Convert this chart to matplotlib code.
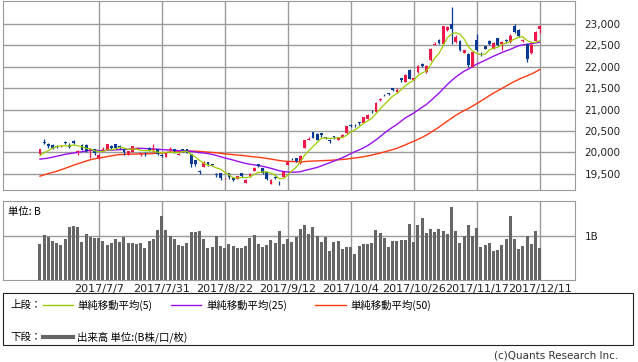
import numpy as np
import matplotlib
matplotlib.use("Agg")
import matplotlib.pyplot as plt
from matplotlib.patches import Rectangle
from matplotlib.lines import Line2D

# closes before the visible window (2017/4/6 - 2017/6/16), only used for the moving averages
prior_closes = [18597, 18665, 18798, 18748, 18553, 18427, 18336, 18355, 18419, 18432,
                18430, 18621, 18876, 19079, 19289, 19252, 19197, 19311, 19446, 19896,
                19843, 19900, 19962, 19884, 19870, 19920, 19815, 19554, 19591, 19678,
                19613, 19743, 19813, 19687, 19683, 19678, 19651, 19860, 20177, 20171,
                19980, 19985, 19909, 20013, 19909, 19899, 19884, 19832, 19943]

# daily candles 2017/6/19 - 2017/12/11
opens = [19960, 20240, 20200, 20180, 20150, 20140, 20230, 20140, 20260, 20000,
         20180, 20170, 20060, 20070, 19860, 20060, 20060, 20160, 20190, 20160,
         20070, 19960, 20020, 20090, 19960, 19970, 20110, 20060, 20070, 19940,
         19900, 20060, 20070, 19940, 20070, 20070, 19960, 19820, 19560, 19665,
         19765, 19725, 19500, 19510, 19375, 19520, 19395, 19380, 19510, 19290,
         19440, 19565, 19730, 19630, 19535, 19270, 19430, 19290, 19430, 19705,
         19870, 19875, 19750, 20110, 20290, 20480, 20440, 20455, 20350, 20300,
         20370, 20290, 20360, 20450, 20650, 20650, 20700, 20690, 20790, 20970,
         20945, 21220, 21340, 21380, 21490, 21400, 21735, 21640, 21930, 21690,
         21875, 22070, 21880, 22145, 22510, 22630, 22535, 22850, 23000, 22570,
         22605, 22325, 22300, 21990, 22610, 22290, 22470, 22600, 22420, 22660,
         22520, 22620, 22575, 22940, 22860, 22590, 22535, 22320, 22595, 22885]
highs = [20090, 20320, 20230, 20200, 20170, 20180, 20260, 20230, 20280, 20050,
         20200, 20190, 20100, 20090, 19960, 20120, 20200, 20170, 20200, 20170,
         20080, 20040, 20160, 20130, 19990, 20000, 20120, 20190, 20080, 19960,
         20000, 20120, 20080, 19990, 20090, 20080, 19970, 19830, 19600, 19790,
         19770, 19740, 19520, 19520, 19410, 19530, 19400, 19460, 19520, 19370,
         19520, 19670, 19735, 19640, 19540, 19370, 19440, 19330, 19550, 19790,
         19880, 19880, 19940, 20300, 20365, 20480, 20445, 20460, 20360, 20310,
         20380, 20365, 20420, 20620, 20660, 20660, 20710, 20830, 20905, 20990,
         21180, 21270, 21350, 21390, 21495, 21490, 21740, 21820, 21935, 21745,
         22030, 22080, 22030, 22430, 22565, 22640, 22955, 22940, 23382, 22730,
         22610, 22395, 22310, 22360, 22760, 22340, 22475, 22610, 22570, 22670,
         22600, 22640, 22770, 22995, 22870, 22650, 22540, 22550, 22830, 22960]
lows = [19940, 20200, 20100, 20090, 20110, 20130, 20190, 20110, 20190, 19950,
        20050, 20010, 19880, 19950, 19850, 20040, 20050, 20070, 20090, 20090,
        19930, 19950, 20010, 20080, 19920, 19920, 20040, 20020, 19930, 19900,
        19890, 20000, 19990, 19930, 20010, 19980, 19660, 19680, 19500, 19650,
        19690, 19680, 19430, 19360, 19370, 19390, 19340, 19370, 19420, 19280,
        19430, 19560, 19660, 19500, 19355, 19260, 19370, 19240, 19420, 19700,
        19830, 19770, 19740, 20100, 20290, 20330, 20290, 20360, 20320, 20230,
        20320, 20280, 20350, 20440, 20600, 20600, 20650, 20680, 20780, 20930,
        20940, 21210, 21310, 21340, 21420, 21390, 21640, 21630, 21700, 21680,
        21860, 22000, 21860, 22140, 22500, 22530, 22530, 22830, 22530, 22560,
        22370, 22310, 21990, 21980, 22370, 22250, 22400, 22510, 22400, 22480,
        22390, 22560, 22560, 22780, 22700, 22580, 22107, 22300, 22590, 22780]
closes = [20068, 20230, 20139, 20111, 20133, 20153, 20225, 20130, 20220, 20033,
          20056, 20032, 20082, 19994, 19929, 20081, 20195, 20098, 20100, 20119,
          20001, 20021, 20145, 20100, 19976, 19955, 20050, 20080, 19960, 19925,
          19986, 20080, 20029, 19952, 20056, 19996, 19739, 19730, 19537, 19753,
          19729, 19703, 19470, 19393, 19384, 19435, 19354, 19453, 19450, 19363,
          19507, 19646, 19691, 19508, 19386, 19358, 19397, 19275, 19546, 19777,
          19866, 19807, 19910, 20299, 20310, 20347, 20296, 20398, 20330, 20267,
          20363, 20356, 20401, 20614, 20627, 20629, 20691, 20824, 20881, 20955,
          21155, 21256, 21336, 21363, 21449, 21458, 21697, 21805, 21708, 21740,
          22008, 22012, 22012, 22420, 22539, 22548, 22938, 22914, 22869, 22681,
          22381, 22380, 22028, 22351, 22397, 22262, 22416, 22523, 22551, 22496,
          22580, 22597, 22725, 22819, 22707, 22622, 22177, 22498, 22811, 22939]
# volume, unit B
volumes = [0.83, 1.02, 0.98, 0.89, 0.84, 0.80, 0.93, 1.20, 1.23, 1.20,
           0.86, 1.05, 0.98, 0.95, 0.95, 0.89, 0.80, 0.84, 0.93, 0.86,
           0.98, 0.84, 0.84, 0.82, 0.84, 0.73, 0.89, 0.93, 1.14, 1.45,
           1.14, 1.00, 0.93, 0.80, 0.77, 0.84, 1.09, 1.09, 1.11, 0.93,
           0.73, 0.75, 1.00, 0.77, 0.73, 0.82, 0.77, 0.73, 0.73, 0.77,
           0.95, 1.02, 0.82, 0.75, 0.80, 0.91, 0.84, 1.11, 0.82, 0.93,
           0.86, 0.98, 1.16, 1.25, 1.05, 1.20, 1.00, 0.86, 0.98, 0.66,
           0.86, 0.89, 0.70, 0.75, 0.75, 0.59, 0.77, 0.82, 0.82, 0.84,
           1.14, 1.07, 0.95, 0.75, 0.89, 0.89, 0.91, 0.91, 1.27, 0.86,
           1.25, 1.41, 1.07, 1.16, 1.09, 1.16, 1.11, 1.05, 1.66, 1.11,
           0.84, 1.00, 1.25, 1.00, 1.18, 0.75, 0.80, 0.84, 0.66, 0.68,
           0.80, 0.93, 1.45, 0.93, 0.70, 0.77, 1.00, 0.82, 1.11, 0.73]

tick_index = [14, 29, 44, 59, 74, 89, 104, 119]
tick_labels = ['2017/7/7', '2017/7/31', '2017/8/22', '2017/9/12',
               '2017/10/4', '2017/10/26', '2017/11/17', '2017/12/11']
price_ticks = [19500, 20000, 20500, 21000, 21500, 22000, 22500, 23000]

RED = '#f0174b'
BLUE = '#0b3a94'
C5, C25, C50 = '#9ccc00', '#9a10ee', '#ff3a10'
GRID = '#9a9a9a'
JP = ['Noto Sans CJK JP', 'DejaVu Sans']

W, H = 638, 362
fig = plt.figure(figsize=(W / 100, H / 100), dpi=100)

def box(l, t, r, b):
    return [l / W, 1 - b / H, (r - l) / W, (b - t) / H]

o = np.array(opens, float); hi = np.array(highs, float)
lo = np.array(lows, float); c = np.array(closes, float)
x = np.arange(len(c))
allc = np.array(prior_closes + closes, float)

def sma(n):
    return np.convolve(allc, np.ones(n) / n, mode='valid')[-len(c):]

ax = fig.add_axes(box(3, 0.5, 575, 190))
ax.set_xlim(-8.8, 127.4)
ax.set_ylim(19123, 23542)
ax.set_yticks(price_ticks)
ax.set_yticklabels([f'{v:,}' for v in price_ticks], fontsize=7.5)
ax.set_xticks(tick_index)
ax.set_xticklabels([])
ax.yaxis.tick_right()
ax.tick_params(length=0, pad=7, labelcolor='#222222')
ax.grid(True, color=GRID, lw=1)
ax.set_axisbelow(True)
for s in ax.spines.values():
    s.set_color(GRID)

ax.plot(x, sma(50), color=C50, lw=1.0, zorder=2)
ax.plot(x, sma(25), color=C25, lw=1.0, zorder=2)
colors = np.where(c > o, RED, BLUE)
ax.vlines(x, lo, hi, colors=colors, lw=0.9, zorder=3)
ax.bar(x, np.maximum(np.abs(c - o), 12), bottom=np.minimum(o, c), width=0.68,
       color=colors, lw=0, zorder=3)
ax.plot(x, sma(5), color=C5, lw=0.9, zorder=4)

av = fig.add_axes(box(3, 201, 575, 280))
av.set_xlim(-8.8, 127.4)
av.set_ylim(0, 1.8)
av.bar(x, volumes, width=0.72, color='#666666', lw=0, zorder=3)
av.set_yticks([1])
av.set_yticklabels(['1B'], fontsize=7.5)
av.yaxis.tick_right()
av.set_xticks(tick_index)
av.set_xticklabels(tick_labels, fontsize=8)
av.tick_params(length=0, pad=7, labelcolor='#222222')
av.tick_params(axis='x', pad=3)
av.grid(True, color=GRID, lw=1)
av.set_axisbelow(True)
for s in av.spines.values():
    s.set_color(GRID)
av.text(0.008, 0.93, '単位: B', transform=av.transAxes, ha='left', va='top',
        fontsize=7.5, family=JP)

# legend box
fig.add_artist(Rectangle((3 / W, 1 - 345 / H), 630 / W, 52 / H, transform=fig.transFigure,
                         fill=False, ec='#222222', lw=0.8))

def legline(x0, x1, y, color, lw):
    fig.add_artist(Line2D([x0 / W, x1 / W], [1 - y / H, 1 - y / H], color=color, lw=lw,
                          transform=fig.transFigure))

def legtext(x0, y, s):
    fig.text(x0 / W, 1 - y / H, s, ha='left', va='center', fontsize=7.5, family=JP)

legtext(10, 305, '上段：')
legline(43, 73, 305, C5, 1.0)
legtext(77, 305, '単純移動平均(5)')
legline(171, 201, 305, C25, 1.0)
legtext(206, 305, '単純移動平均(25)')
legline(315, 346, 305, C50, 1.0)
legtext(350, 305, '単純移動平均(50)')
legtext(10, 337, '下段：')
legline(43, 73, 337, '#666666', 3.0)
legtext(77, 337, '出来高 単位:(B株/口/枚)')

fig.text(618 / W, 1 - 356 / H, '(c)Quants Research Inc.', ha='right', va='center',
         fontsize=7.5, color='#333333')

fig.savefig('out.png', dpi=100)
